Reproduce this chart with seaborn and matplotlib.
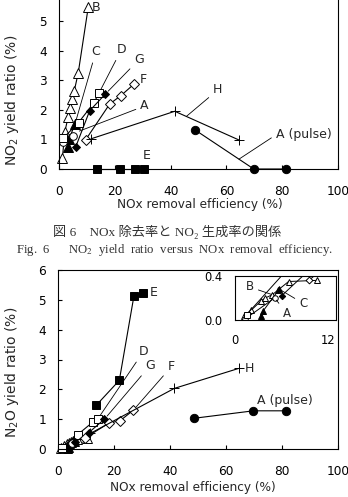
import matplotlib
matplotlib.use("Agg")
import matplotlib.pyplot as plt
import pandas as pd
import seaborn as sns

# NOx removal efficiency (%) for each condition, with NO2 and N2O yield ratios (%)
B_x = [1.2, 2.1, 3.3, 3.9, 4.8, 5.5, 6.9, 10.5]
B_no2 = [0.36, 1.26, 1.77, 2.05, 2.35, 2.65, 3.25, 5.48]
B_n2o = [0.04, 0.09, 0.17, 0.20, 0.23, 0.27, 0.35, 0.36]

C_x = [3.3, 3.6, 5.7]
C_no2 = [0.73, 1.01, 1.51]
C_n2o = [0.04, 0.08, 0.28]

A_x = [1.3, 5.1]
A_no2 = [0.92, 1.11]
A_n2o = [0.01, 0.20]

D_x = [1.5, 7.0, 12.4, 14.3]
D_no2 = [1.04, 1.57, 2.22, 2.56]
D_n2o = [0.05, 0.48, 0.90, 1.02]

G_x = [6.0, 11.0, 16.6]
G_no2 = [0.75, 1.97, 2.53]
G_n2o = [0.22, 0.55, 1.00]

F_x = [9.5, 18.2, 22.2, 26.9]
F_no2 = [0.98, 2.20, 2.48, 2.87]
F_n2o = [0.36, 0.87, 0.95, 1.30]

H_x = [11.5, 41.5, 64.5]
H_no2 = [1.02, 1.95, 0.98]
H_n2o = [0.52, 2.03, 2.70]

E_x = [13.6, 21.9, 27.1, 30.4]
E_no2 = [0.0, 0.0, 0.0, 0.0]
E_n2o = [1.46, 2.30, 5.12, 5.24]

P_x = [48.6, 69.8, 81.3]
P_no2 = [1.33, 0.0, 0.0]
P_n2o = [1.03, 1.28, 1.28]

series = {
    "B": (B_x, B_no2, B_n2o),
    "C": (C_x, C_no2, C_n2o),
    "A": (A_x, A_no2, A_n2o),
    "D": (D_x, D_no2, D_n2o),
    "G": (G_x, G_no2, G_n2o),
    "F": (F_x, F_no2, F_n2o),
    "H": (H_x, H_no2, H_n2o),
    "E": (E_x, E_no2, E_n2o),
    "A (pulse)": (P_x, P_no2, P_n2o),
}

styles = {
    "B": dict(marker="^", markerfacecolor="white", markersize=6.5),
    "C": dict(marker="^", markerfacecolor="black", markersize=6.5),
    "A": dict(marker="o", markerfacecolor="white", markersize=5.5),
    "D": dict(marker="s", markerfacecolor="white", markersize=5.8),
    "G": dict(marker="D", markerfacecolor="black", markersize=4.5),
    "F": dict(marker="D", markerfacecolor="white", markersize=4.8),
    "H": dict(marker="+", markerfacecolor="black", markersize=7.5),
    "E": dict(marker="s", markerfacecolor="black", markersize=5.8),
    "A (pulse)": dict(marker="o", markerfacecolor="black", markersize=6.0),
}

rows = []
for name, (xs, no2, n2o) in series.items():
    for x, a, b in zip(xs, no2, n2o):
        rows.append({"series": name, "eff": x, "no2": a, "n2o": b})
df = pd.DataFrame(rows)

sns.set_style("ticks")
plt.rcParams["font.family"] = ["DejaVu Sans"]
plt.rcParams["mathtext.fontset"] = "dejavusans"
plt.rcParams["axes.edgecolor"] = "black"
plt.rcParams["axes.linewidth"] = 0.8

W, H = 348, 497
fig = plt.figure(figsize=(W / 100, H / 100), dpi=100)


def box(l, t, r, b):
    return [l / W, 1 - b / H, (r - l) / W, (b - t) / H]


ax1 = fig.add_axes(box(59, -8.6, 338, 169))
ax2 = fig.add_axes(box(58, 270, 338, 449))
ins = fig.add_axes(box(235, 276, 336, 320))


def draw(ax, col, clip, scale=1.0, lw=0.8):
    for name, sub in df.groupby("series", sort=False):
        st = dict(styles[name])
        st["markersize"] = st["markersize"] * scale
        sns.lineplot(data=sub, x="eff", y=col, ax=ax, sort=False, estimator=None,
                     errorbar=None, color="black", linewidth=lw,
                     markeredgecolor="black", markeredgewidth=0.7,
                     clip_on=clip, legend=False, **st)
    ax.set_xlabel("")
    ax.set_ylabel("")


draw(ax1, "no2", False)
draw(ax2, "n2o", False)
draw(ins, "n2o", True, scale=0.72, lw=0.7)

for ax in (ax1, ax2):
    ax.set_xlim(0, 100)
    ax.set_ylim(0, 6)
    ax.set_xticks(range(0, 101, 20))
    ax.tick_params(direction="in", length=3, width=0.8, labelsize=8.7, colors="black")
    ax.tick_params(axis="x", pad=11.5)
    ax.tick_params(axis="y", pad=8.5)
ax1.set_yticks(range(0, 6))
ax2.set_yticks(range(0, 7))

ins.set_xlim(0, 13)
ins.set_ylim(0, 0.4)
ins.set_xticks([0, 12])
ins.set_yticks([0.0, 0.4])
ins.set_yticklabels(["0.0", "0.4"])
ins.tick_params(direction="in", length=0, labelsize=8.3, colors="black")
ins.tick_params(axis="x", pad=10)
ins.tick_params(axis="y", pad=9)

lead = dict(arrowstyle="-", color="black", lw=0.6, shrinkA=1, shrinkB=3)
fs = 9

# top chart labels
ax1.text(11.6, 5.45, "B", fontsize=fs, va="center", ha="left")
ax1.annotate("C", xy=(C_x[-1], C_no2[-1]), xytext=(13.2, 3.96), fontsize=fs,
             ha="center", va="center", arrowprops=lead)
ax1.annotate("D", xy=(D_x[-1], D_no2[-1]), xytext=(22.4, 4.04), fontsize=fs,
             ha="center", va="center", arrowprops=lead)
ax1.annotate("G", xy=(G_x[-1], G_no2[-1]), xytext=(28.7, 3.70), fontsize=fs,
             ha="center", va="center", arrowprops=lead)
ax1.text(30.1, 3.03, "F", fontsize=fs, ha="center", va="center")
ax1.annotate("A", xy=(A_x[-1] + 0.8, A_no2[-1] + 0.12), xytext=(30.7, 2.13), fontsize=fs,
             ha="center", va="center", arrowprops=lead)
t = 0.18
ax1.annotate("H", xy=(H_x[1] + t * (H_x[2] - H_x[1]), H_no2[1] + t * (H_no2[2] - H_no2[1])),
             xytext=(56.9, 2.67), fontsize=fs, ha="center", va="center",
             arrowprops=dict(lead, shrinkB=0))
t = 0.75
ax1.annotate("A (pulse)", xy=(P_x[0] + t * (P_x[1] - P_x[0]), P_no2[0] + t * (P_no2[1] - P_no2[0])),
             xytext=(87.7, 1.15), fontsize=fs, ha="center", va="center",
             arrowprops=dict(lead, shrinkB=0, relpos=(0.0, 0.5)))
ax1.text(31.3, 0.47, "E", fontsize=fs, ha="center", va="center")

# bottom chart labels
ax2.text(34.2, 5.23, "E", fontsize=fs, ha="center", va="center")
ax2.annotate("D", xy=(D_x[-1], D_n2o[-1]), xytext=(30.6, 3.28), fontsize=fs,
             ha="center", va="center", arrowprops=lead)
ax2.annotate("G", xy=(G_x[-1], G_n2o[-1]), xytext=(33.0, 2.81), fontsize=fs,
             ha="center", va="center", arrowprops=lead)
ax2.annotate("F", xy=(F_x[-1], F_n2o[-1]), xytext=(40.4, 2.75), fontsize=fs,
             ha="center", va="center", arrowprops=lead)
ax2.text(68.5, 2.70, "H", fontsize=fs, ha="center", va="center")
ax2.text(80.9, 1.63, "A (pulse)", fontsize=fs, ha="center", va="center")

# inset labels
ins.annotate("B", xy=(B_x[4], B_n2o[4]), xytext=(1.9, 0.30), fontsize=8.5,
             ha="center", va="center", arrowprops=dict(lead, shrinkB=1))
ins.annotate("C", xy=(C_x[-1], C_n2o[-1]), xytext=(8.8, 0.15), fontsize=8.5,
             ha="center", va="center", arrowprops=dict(lead, shrinkB=2))
ins.annotate("A", xy=(A_x[-1], A_n2o[-1]), xytext=(6.7, 0.06), fontsize=8.5,
             ha="center", va="center", arrowprops=dict(lead, shrinkB=2))

# axis titles
fig.text(200 / W, 1 - 205 / H, "NOx removal efficiency (%)", fontsize=8.7,
         ha="center", va="center")
fig.text(193 / W, 1 - 487 / H, "NOx removal efficiency (%)", fontsize=8.7,
         ha="center", va="center")
fig.text(12 / W, 1 - 100 / H, "NO$_2$ yield ratio (%)", fontsize=10, rotation=90,
         ha="center", va="center")
fig.text(12 / W, 1 - 372 / H, "N$_2$O yield ratio (%)", fontsize=10, rotation=90,
         ha="center", va="center")

# caption
fig.text(167 / W, 1 - 232 / H, "図 6　NOx 除去率と NO₂ 生成率の関係", fontsize=9.5,
         family=["Liberation Serif", "Noto Sans CJK JP", "DejaVu Sans"],
         ha="center", va="center", color="#333333")
fig.text(175 / W, 1 - 250 / H,
         "Fig.  6      NO$_2$  yield  ratio  versus  NOx  removal  efficiency.",
         fontsize=9.2, family="Liberation Serif", math_fontfamily="stix",
         ha="center", va="center", color="#333333")

fig.savefig("out.png", dpi=100)
